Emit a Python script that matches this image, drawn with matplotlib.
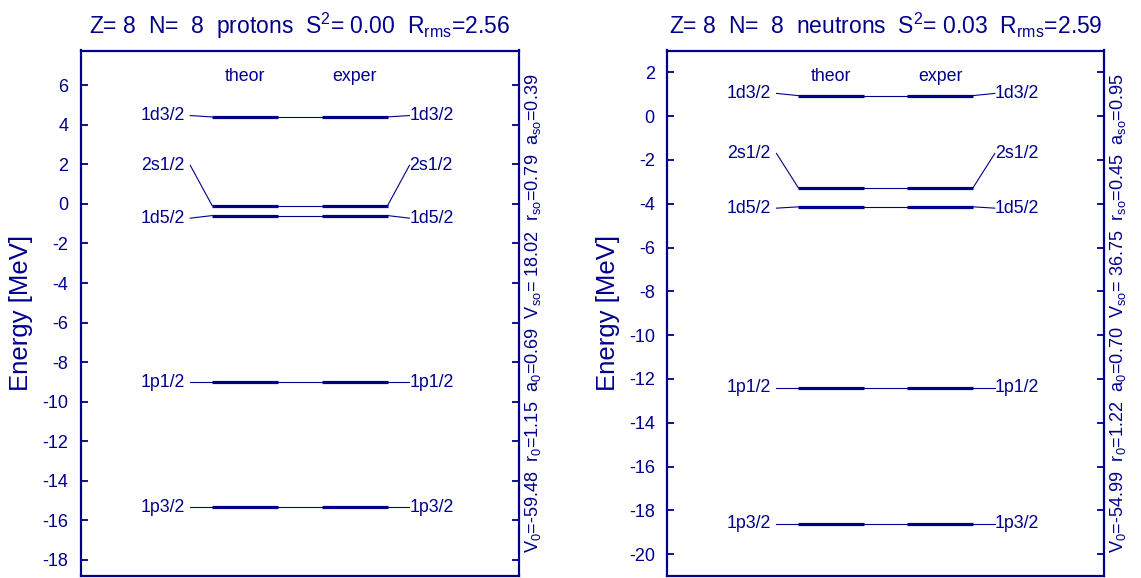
import matplotlib
matplotlib.use("Agg")
import matplotlib.pyplot as plt
from matplotlib.transforms import blended_transform_factory, offset_copy

plt.rcParams["font.family"] = ["Liberation Sans", "DejaVu Sans"]
plt.rcParams["mathtext.fontset"] = "custom"
plt.rcParams["mathtext.rm"] = "Liberation Sans"
plt.rcParams["mathtext.it"] = "Liberation Sans:italic"
plt.rcParams["mathtext.default"] = "regular"
plt.rcParams["axes.unicode_minus"] = False

NAVY = "#00008b"

# single-particle levels (MeV), bottom to top
levels = ["1p3/2", "1p1/2", "1d5/2", "2s1/2", "1d3/2"]

proton_theor = [-15.33, -9.01, -0.59, -0.09, 4.40]
proton_exper = [-15.33, -9.01, -0.59, -0.09, 4.40]
proton_label_y = [-15.33, -9.01, -0.72, 1.95, 4.47]

neutron_theor = [-18.61, -12.40, -4.14, -3.27, 0.94]
neutron_exper = [-18.61, -12.40, -4.14, -3.27, 0.94]
neutron_label_y = [-18.61, -12.40, -4.20, -1.70, 1.04]

proton_yticks = list(range(-18, 7, 2))
neutron_yticks = list(range(-20, 3, 2))
proton_ylim = (-18.82, 7.76)
neutron_ylim = (-21.0, 3.0)

proton_title = r"Z= 8  N=  8  protons  S$^2$= 0.00  R$_{rms}$=2.56"
neutron_title = r"Z= 8  N=  8  neutrons  S$^2$= 0.03  R$_{rms}$=2.59"

proton_params = (r"V$_0$=-59.48  r$_0$=1.15  a$_0$=0.69  "
                 r"V$_{so}$= 18.02  r$_{so}$=0.79  a$_{so}$=0.39")
neutron_params = (r"V$_0$=-54.99  r$_0$=1.22  a$_0$=0.70  "
                  r"V$_{so}$= 36.75  r$_{so}$=0.45  a$_{so}$=0.95")

column_names = ["theor", "exper"]

W, H = 1141, 578
fig = plt.figure(figsize=(W / 100, H / 100), dpi=100)

# column layout in axis units
X_LAB_L, X_TH0, X_TH1, X_EX0, X_EX1, X_LAB_R = 0.25, 0.30, 0.45, 0.55, 0.70, 0.75


def draw_panel(rect, theor, exper, label_y, yticks, ylim, title, params):
    ax = fig.add_axes(rect)
    ax.set_xlim(0, 1)
    ax.set_ylim(*ylim)
    for s in ax.spines.values():
        s.set_color(NAVY)
        s.set_linewidth(1.6)
    ax.set_xticks([])
    ax.set_yticks(yticks)
    ax.tick_params(axis="y", direction="in", length=5, width=1.3,
                   left=True, right=True, colors=NAVY, labelsize=13, pad=9)

    for name, t, e, ly in zip(levels, theor, exper, label_y):
        # thin connectors
        ax.plot([X_LAB_L, X_TH0], [ly, t], color=NAVY, lw=0.8)
        ax.plot([X_TH1, X_EX0], [t, e], color=NAVY, lw=0.8)
        ax.plot([X_EX1, X_LAB_R], [e, ly], color=NAVY, lw=0.8)
        # level bars
        ax.plot([X_TH0, X_TH1], [t, t], color=NAVY, lw=2.3, solid_capstyle="butt")
        ax.plot([X_EX0, X_EX1], [e, e], color=NAVY, lw=2.3, solid_capstyle="butt")
        ax.text(X_LAB_L - 0.013, ly, name, ha="right", va="center",
                color=NAVY, fontsize=12.8)
        ax.text(X_LAB_R, ly, name, ha="left", va="center",
                color=NAVY, fontsize=12.8)

    bt = blended_transform_factory(ax.transData, ax.transAxes)
    for name, xc in zip(column_names, [(X_TH0 + X_TH1) / 2, (X_EX0 + X_EX1) / 2]):
        ax.text(xc, 0.95, name, ha="center", va="center", color=NAVY,
                fontsize=12.8, transform=bt)

    ax.set_title(title, color=NAVY, fontsize=16.5, pad=12)
    ax.text(-0.136, 0.5, "Energy [MeV]", rotation=90, ha="center", va="center",
            color=NAVY, fontsize=18.5, transform=ax.transAxes)
    tr = offset_copy(ax.transAxes, fig=fig, x=3, y=0, units="points")
    ax.text(1.0, 0.5, params, rotation=90, ha="left", va="center",
            color=NAVY, fontsize=13.1, transform=tr)
    return ax


top_px, bot_px = 50.5, 576
draw_panel([80.7 / W, 1 - bot_px / H, 438.3 / W, (bot_px - top_px) / H],
           proton_theor, proton_exper, proton_label_y,
           proton_yticks, proton_ylim, proton_title, proton_params)
draw_panel([667.3 / W, 1 - bot_px / H, 436.7 / W, (bot_px - top_px) / H],
           neutron_theor, neutron_exper, neutron_label_y,
           neutron_yticks, neutron_ylim, neutron_title, neutron_params)

fig.savefig("out.png", dpi=100, facecolor="white")
